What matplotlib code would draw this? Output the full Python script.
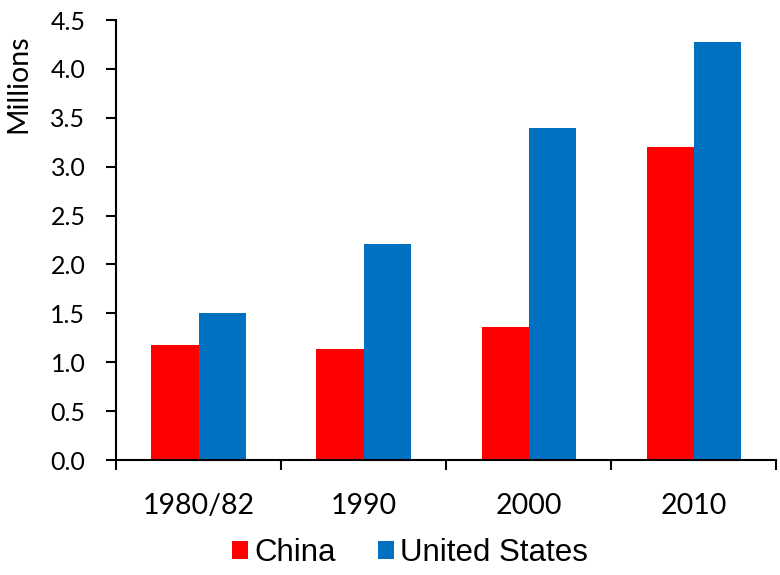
import matplotlib
matplotlib.use("Agg")
import matplotlib.pyplot as plt
from matplotlib import font_manager
import numpy as np

# values in millions
years = ['1980/82', '1990', '2000', '2010']
china = [1.18, 1.14, 1.36, 3.20]
usa = [1.50, 2.21, 3.40, 4.27]

names = {f.name for f in font_manager.fontManager.ttflist}
main_font = 'Lato' if 'Lato' in names else 'DejaVu Sans'
legend_font = 'Liberation Sans'

fig = plt.figure(figsize=(7.8, 5.75), dpi=100)
ax = fig.add_axes([0.1487, 0.2, 0.995 - 0.1487, 0.9652 - 0.2])

x = np.arange(len(years))
w = 0.285
ax.bar(x - w / 2, china, w, color='#FF0000', label='China')
ax.bar(x + w / 2, usa, w, color='#0070C0', label='United States')

ax.set_xlim(-0.5, len(years) - 0.5)
ax.set_ylim(0, 4.5)
ax.set_yticks(np.arange(0, 4.51, 0.5))
ax.set_yticklabels([f'{v:.1f}' for v in np.arange(0, 4.51, 0.5)],
                   fontfamily=main_font, fontsize=18)
ax.set_xticks(x)
ax.set_xticklabels(years, fontfamily=main_font, fontsize=20.5)
ax.set_xticks(np.arange(-0.5, len(years), 1), minor=True)

for s in ['top', 'right']:
    ax.spines[s].set_visible(False)
for s in ['left', 'bottom']:
    ax.spines[s].set_linewidth(1.5)

ax.tick_params(axis='y', length=7, width=1.5, pad=15)
ax.tick_params(axis='x', which='major', length=0, pad=24)
ax.tick_params(axis='x', which='minor', length=7, width=1.5)

fig.text(18 / 780, 1 - 84 / 575, 'Millions', rotation=90, ha='center', va='center',
         fontfamily=main_font, fontsize=20.5)

fig.legend(loc='center', bbox_to_anchor=(410 / 780, 1 - 553 / 575), ncol=2,
           frameon=False, prop={'family': legend_font, 'size': 22.5},
           handlelength=0.52, handleheight=0.52, handletextpad=0.2,
           columnspacing=1.35)

fig.savefig('out.png', dpi=100)
